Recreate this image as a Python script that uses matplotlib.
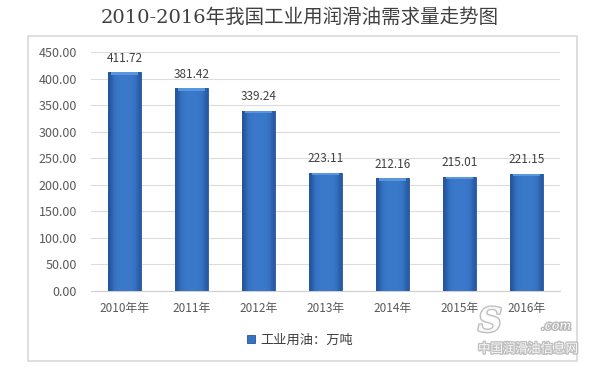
import numpy as np
import matplotlib
matplotlib.use("Agg")
from matplotlib import pyplot as plt
from matplotlib.patches import Rectangle
import matplotlib.patheffects as pe

plt.rcParams['font.family'] = ['Noto Sans CJK SC', 'DejaVu Sans']

years = ["2010年年", "2011年", "2012年", "2013年", "2014年", "2015年", "2016年"]
demand = [411.72, 381.42, 339.24, 223.11, 212.16, 215.01, 221.15]
yticks = [0, 50, 100, 150, 200, 250, 300, 350, 400, 450]
series_name = "工业用油：万吨"
title = "2010-2016年我国工业用润滑油需求量走势图"

fig = plt.figure(figsize=(6, 3.72), dpi=100)
fig.patch.set_facecolor("white")

# chart frame
fig.patches.append(Rectangle((28 / 600, 1 - 361 / 372), 549 / 600, 325 / 372,
                             transform=fig.transFigure, fill=False,
                             edgecolor="#D9D9D9", linewidth=1.2))

ax = fig.add_axes([91 / 600, 1 - 291 / 372, 469 / 600, 239 / 372])
x = np.arange(len(years))
bars = ax.bar(x, demand, width=0.49, color="#3572C2", edgecolor="#24549A",
              linewidth=0.6, zorder=2, label=series_name)

# bevel-like shading inside each bar
grad = np.array([[0.0, 0.6, 0.85, 0.9, 0.85, 0.7, 0.1]])
cmap = matplotlib.colors.LinearSegmentedColormap.from_list(
    "bar", ["#24549A", "#3470C0", "#3B7ACB"])
for b in bars:
    x0, y0 = b.get_x(), b.get_y()
    w, h = b.get_width(), b.get_height()
    im = ax.imshow(grad, cmap=cmap, extent=(x0, x0 + w, y0, y0 + h),
                   aspect="auto", zorder=3, interpolation="bicubic")
    im.set_clip_path(b)
    # lighter top edge
    ax.fill_between([x0 + w * 0.08, x0 + w * 0.92], y0 + h - 5, y0 + h,
                    color="#5B95DE", zorder=3.5, linewidth=0)

for xi, v in zip(x, demand):
    ax.text(xi, v + 14, f"{v:.2f}", ha="center", va="bottom",
            fontsize=8.5, color="#404040", zorder=4)

ax.set_xlim(-0.5, len(years) - 0.5)
ax.set_ylim(0, 450)
ax.set_yticks(yticks)
ax.set_yticklabels([f"{t:.2f}" for t in yticks])
ax.set_xticks(x)
ax.set_xticklabels(years)
ax.yaxis.grid(True, color="#DCDCDC", linewidth=0.8, zorder=0)
ax.set_axisbelow(True)
ax.tick_params(axis="y", length=0, pad=10, labelsize=9, labelcolor="#595959")
ax.tick_params(axis="x", length=0, pad=8, labelsize=8.5, labelcolor="#595959")
for s in ["top", "right", "left"]:
    ax.spines[s].set_visible(False)
ax.spines["bottom"].set_color("#D0D0D0")
ax.spines["bottom"].set_linewidth(0.8)
ax.set_facecolor("none")

fig.text(0.5, 1 - 18 / 372, title, ha="center", va="center", fontsize=14,
         color="#404040", family=["DejaVu Serif", "Noto Sans CJK SC"])

leg = fig.legend(handles=[bars], labels=[series_name], loc="center",
                 bbox_to_anchor=(0.5, 1 - 340 / 372), frameon=False,
                 fontsize=9.5, handlelength=0.6, handleheight=0.6,
                 handletextpad=0.4, labelcolor="#404040")

# watermark
wm = [pe.withStroke(linewidth=2, foreground="#B8B8B8")]
fig.text(528 / 600, 1 - 349 / 372, "中国润滑油信息网", ha="center", va="center",
         fontsize=9, color="white", path_effects=wm, alpha=0.9)
fig.text(556 / 600, 1 - 326 / 372, ".com", ha="center", va="center",
         fontsize=9, color="white", style="italic", family="DejaVu Serif",
         path_effects=wm)
fig.text(490 / 600, 1 - 322 / 372, "S", ha="center", va="center",
         fontsize=24, color="white", style="italic", weight="bold",
         family="DejaVu Serif", path_effects=wm, alpha=0.9)

fig.savefig("out.png", dpi=100)
